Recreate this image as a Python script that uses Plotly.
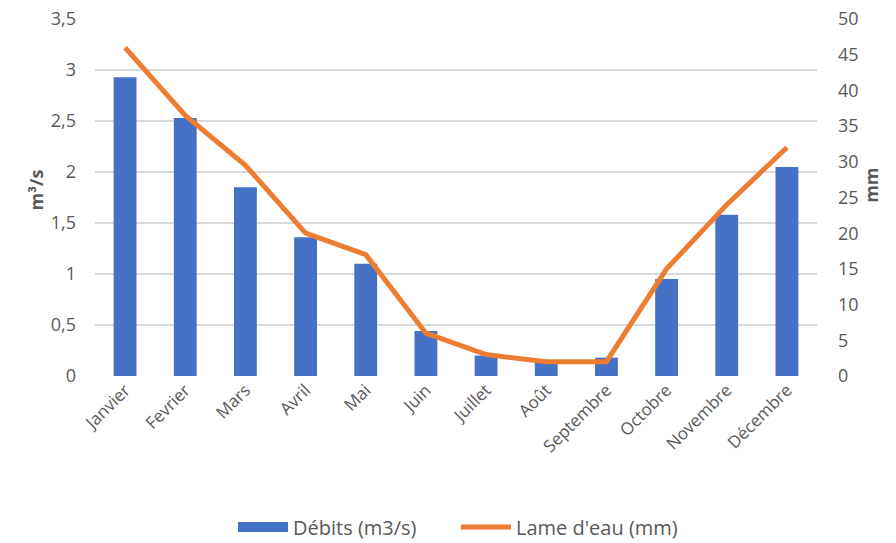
import plotly.graph_objects as go

mois = ["Janvier", "Fevrier", "Mars", "Avril", "Mai", "Juin", "Juillet",
        "Août", "Septembre", "Octobre", "Novembre", "Décembre"]
debits = [2.93, 2.53, 1.85, 1.36, 1.10, 0.44, 0.20, 0.15, 0.18, 0.95, 1.58, 2.05]
lame_eau = [46, 36.5, 29.5, 20, 17, 6, 3, 2, 2, 15, 24, 32]

left_ticks = [0, 0.5, 1, 1.5, 2, 2.5, 3, 3.5]
left_labels = ["0", "0,5", "1", "1,5", "2", "2,5", "3", "3,5"]
right_ticks = list(range(0, 55, 5))

font_family = "Open Sans, Liberation Sans, sans-serif"
grey = "#595959"
blue = "#4672C6"
orange = "#ED7D31"

fig = go.Figure()
fig.add_trace(go.Bar(
    x=mois, y=debits, name="Débits (m3/s)", showlegend=False,
    marker=dict(color=blue, line=dict(width=0)),
    width=0.38, yaxis="y",
))
# legend entry drawn as a wide flat swatch for the bars
fig.add_trace(go.Scatter(
    x=[None], y=[None], name="Débits (m3/s)", mode="lines",
    line=dict(color=blue, width=10), yaxis="y",
))
fig.add_trace(go.Scatter(
    x=mois, y=lame_eau, name="Lame d'eau (mm)", mode="lines",
    line=dict(color=orange, width=5), yaxis="y2",
))

title_font = dict(family=font_family, size=18, color=grey)

fig.update_layout(
    width=896, height=543,
    margin=dict(l=95, r=79, t=19, b=167, autoexpand=False),
    plot_bgcolor="white", paper_bgcolor="white",
    font=dict(family=font_family, color=grey, size=17),
    showlegend=True,
    legend=dict(orientation="h", x=0.5, xanchor="center", y=-0.423, yanchor="middle",
                font=dict(size=20, color=grey), traceorder="normal",
                itemwidth=50, entrywidth=158),
    xaxis=dict(tickangle=-45, showgrid=False, showline=False, ticks="",
               automargin=False, tickfont=dict(size=17, color=grey)),
    yaxis=dict(range=[0, 3.5], tickvals=left_ticks, ticktext=left_labels,
               showgrid=True, gridcolor="#d9d9d9", gridwidth=1.5,
               zeroline=False, showline=False, ticks="", automargin=False,
               ticklabelstandoff=18,
               tickfont=dict(size=18, color=grey)),
    yaxis2=dict(range=[0, 50], tickvals=right_ticks, overlaying="y", side="right",
                showgrid=False, zeroline=False, showline=False, ticks="",
                automargin=False, ticklabelstandoff=20,
                tickfont=dict(size=18, color=grey)),
    annotations=[
        dict(text="<b>m³/s</b>", textangle=-90, xref="paper", yref="paper",
             x=-0.101, y=0.52, showarrow=False, font=title_font),
        dict(text="<b>mm</b>", textangle=-90, xref="paper", yref="paper",
             x=1.094, y=0.535, showarrow=False, font=title_font),
    ],
)

fig.write_html("out.html")
